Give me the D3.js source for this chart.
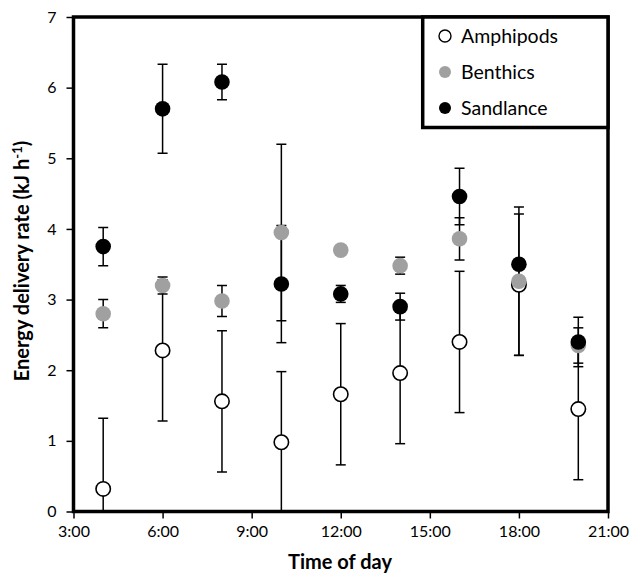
<!DOCTYPE html>
<html>
<head>
<meta charset="utf-8">
<script src="https://cdn.jsdelivr.net/npm/d3@7"></script>
<style>
  body { margin: 0; background: #fff; }
  svg { display: block; }
  text { font-family: Lato, "Open Sans", sans-serif; fill: #000; }
</style>
</head>
<body>
<svg id="chart" width="632" height="579"></svg>
<script>
// ---- data ----
const hours = [4, 6, 8, 10, 12, 14, 16, 18, 20];
const amphipodsMean = [0.32, 2.28, 1.56, 0.98, 1.66, 1.96, 2.40, 3.21, 1.45];
const amphipodsErr  = [1.00, 1.00, 1.00, 1.00, 1.00, 1.00, 1.00, 1.00, 1.00];
const benthicsMean  = [2.80, 3.20, 2.98, 3.95, 3.70, 3.48, 3.86, 3.26, 2.35];
const benthicsErr   = [0.20, 0.12, 0.22, 1.25, 0.03, 0.12, 0.30, 1.05, 0.25];
const sandlanceMean = [3.75, 5.70, 6.08, 3.22, 3.08, 2.90, 4.46, 3.50, 2.40];
const sandlanceErr  = [0.27, 0.63, 0.25, 0.83, 0.12, 0.19, 0.40, 0.07, 0.35];
const seriesNames = ["Amphipods", "Benthics", "Sandlance"];
const xTicks = [3, 6, 9, 12, 15, 18, 21];
const yTicks = [0, 1, 2, 3, 4, 5, 6, 7];

const styles = [
  { fill: "#ffffff", stroke: "#000000" },
  { fill: "#a0a0a0", stroke: "none" },
  { fill: "#000000", stroke: "none" }
];
const seriesData = [
  [amphipodsMean, amphipodsErr],
  [benthicsMean, benthicsErr],
  [sandlanceMean, sandlanceErr]
];

const svg = d3.select("#chart");
const L = 73.5, R = 608, T = 17, B = 511.5;
const x = d3.scaleLinear().domain([3, 21]).range([L, R]);
const y = d3.scaleLinear().domain([0, 7]).range([B, T]);

svg.append("defs").append("clipPath").attr("id", "plotclip")
  .append("rect").attr("x", L).attr("y", T).attr("width", R - L).attr("height", B - T);

// axes
const yAxis = svg.append("g").attr("transform", `translate(${L},0)`)
  .call(d3.axisLeft(y).tickValues(yTicks).tickSize(7).tickPadding(10).tickFormat(d3.format("d")));
const xAxis = svg.append("g").attr("transform", `translate(0,${B})`)
  .call(d3.axisBottom(x).tickValues(xTicks).tickSize(7).tickPadding(7).tickFormat(d => d + ":00"));
[yAxis, xAxis].forEach(g => {
  g.select(".domain").remove();
  g.selectAll(".tick line").attr("stroke", "#000").attr("stroke-width", 1.5);
  g.selectAll(".tick text").style("font-family", "Lato, sans-serif").style("font-size", "16px").attr("fill", "#000");
});

// frame
svg.append("rect").attr("x", L).attr("y", T).attr("width", R - L).attr("height", B - T)
  .attr("fill", "none").attr("stroke", "#000").attr("stroke-width", 3.5);

// error bars
const plot = svg.append("g").attr("clip-path", "url(#plotclip)");
const capW = 5;
seriesData.forEach(([means, errs], si) => {
  const g = plot.append("g");
  hours.forEach((h, i) => {
    const cx = x(h), y1 = y(means[i] + errs[i]), y0 = y(means[i] - errs[i]);
    g.append("line").attr("x1", cx).attr("x2", cx).attr("y1", y1).attr("y2", y0)
      .attr("stroke", "#000").attr("stroke-width", 1.5);
    g.append("line").attr("x1", cx - capW).attr("x2", cx + capW).attr("y1", y1).attr("y2", y1)
      .attr("stroke", "#000").attr("stroke-width", 1.5);
    if (means[i] - errs[i] >= 0)
      g.append("line").attr("x1", cx - capW).attr("x2", cx + capW).attr("y1", y0).attr("y2", y0)
        .attr("stroke", "#000").attr("stroke-width", 1.5);
  });
});

// markers
seriesData.forEach(([means], si) => {
  svg.append("g").selectAll("circle").data(hours).join("circle")
    .attr("cx", d => x(d)).attr("cy", (d, i) => y(means[i]))
    .attr("r", si === 0 ? 7.2 : 7.8)
    .attr("fill", styles[si].fill)
    .attr("stroke", styles[si].stroke)
    .attr("stroke-width", 1.6);
});

// axis titles
svg.append("text").attr("x", 340).attr("y", 569).attr("text-anchor", "middle")
  .style("font-weight", "bold").style("font-size", "20px").text("Time of day");
const yt = svg.append("text").attr("transform", `translate(29,261) rotate(-90)`)
  .attr("text-anchor", "middle").style("font-weight", "bold").style("font-size", "20px");
yt.append("tspan").text("Energy delivery rate (kJ h");
yt.append("tspan").attr("dy", -7).style("font-size", "13px").text("-1");
yt.append("tspan").attr("dy", 7).text(")");

// legend
const lg = svg.append("g");
lg.append("rect").attr("x", 422.7).attr("y", T).attr("width", R - 422.7).attr("height", 110.5)
  .attr("fill", "#fff").attr("stroke", "#000").attr("stroke-width", 3.5);
const legendY = [36, 72, 108];
seriesNames.forEach((name, i) => {
  lg.append("circle").attr("cx", 445).attr("cy", legendY[i]).attr("r", 6)
    .attr("fill", styles[i].fill).attr("stroke", styles[i].stroke).attr("stroke-width", 1.4);
  lg.append("text").attr("x", 461).attr("y", legendY[i]).attr("dy", "0.35em")
    .style("font-size", "19.5px").text(name);
});
</script>
</body>
</html>
